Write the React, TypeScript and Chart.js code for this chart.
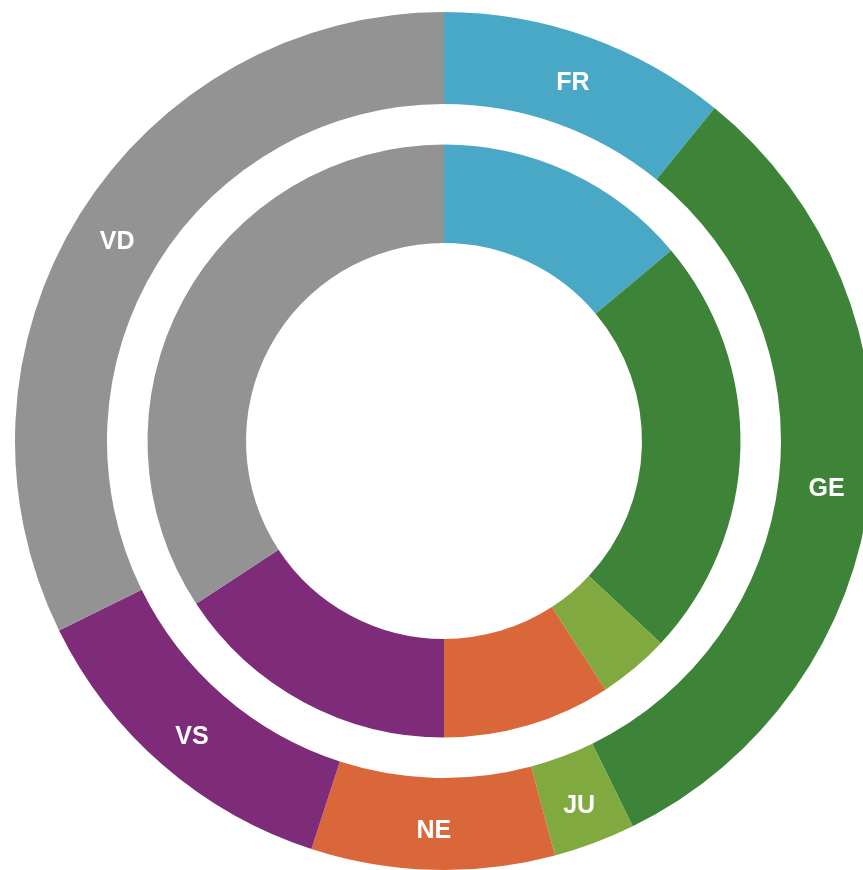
import React, { useEffect, useRef } from "react";
import { Chart, registerables } from "chart.js";

Chart.register(...registerables);

const cantons = ["FR", "GE", "JU", "NE", "VS", "VD"];
const outerValues = [39.1, 114.8, 11.1, 33.0, 45.8, 116.2];
const innerValues = [50.0, 83.0, 14.0, 33.0, 56.7, 123.3];
const colors = ["#4AA8C7", "#3E8438", "#80AA40", "#DA6739", "#7E2B7A", "#929392"];

const labelPlugin = {
  id: "ringLabels",
  afterDatasetsDraw(chart: any) {
    const meta = chart.getDatasetMeta(0);
    const ctx = chart.ctx;
    ctx.save();
    ctx.fillStyle = "#ffffff";
    ctx.font = "bold 25px 'Liberation Sans', Arial, sans-serif";
    ctx.textAlign = "center";
    ctx.textBaseline = "middle";
    meta.data.forEach((arc: any, i: number) => {
      const p = arc.getProps(["x", "y", "startAngle", "endAngle", "innerRadius", "outerRadius"], true);
      const mid = (p.startAngle + p.endAngle) / 2;
      const r = (p.innerRadius + p.outerRadius) / 2 + 2;
      ctx.fillText(cantons[i], p.x + Math.cos(mid) * r, p.y + Math.sin(mid) * r + 5);
    });
    ctx.restore();
  },
};

export default function App() {
  const ref = useRef<HTMLCanvasElement>(null);
  useEffect(() => {
    if (!ref.current) return;
    const chart = new Chart(ref.current, {
      type: "doughnut",
      data: {
        labels: cantons,
        datasets: [
          { data: outerValues, backgroundColor: colors, borderWidth: 0, weight: 92, hoverOffset: 0 },
          { data: [1], backgroundColor: ["rgba(0,0,0,0)"], borderWidth: 0, weight: 40.5, hoverOffset: 0 },
          { data: innerValues, backgroundColor: colors, borderWidth: 0, weight: 98.5, hoverOffset: 0 },
        ],
      },
      options: {
        responsive: false,
        animation: false,
        devicePixelRatio: 1,
        cutout: "46.15%",
        events: [],
        layout: { padding: 12 },
        plugins: { legend: { display: false }, tooltip: { enabled: false } },
      },
      plugins: [labelPlugin],
    } as any);
    return () => chart.destroy();
  }, []);
  return (
    <div style={{ position: "fixed", left: 0, top: 0, width: 863, height: 870, overflow: "hidden", background: "#fff" }}>
      <canvas ref={ref} width={888} height={882} style={{ display: "block" }} />
    </div>
  );
}
